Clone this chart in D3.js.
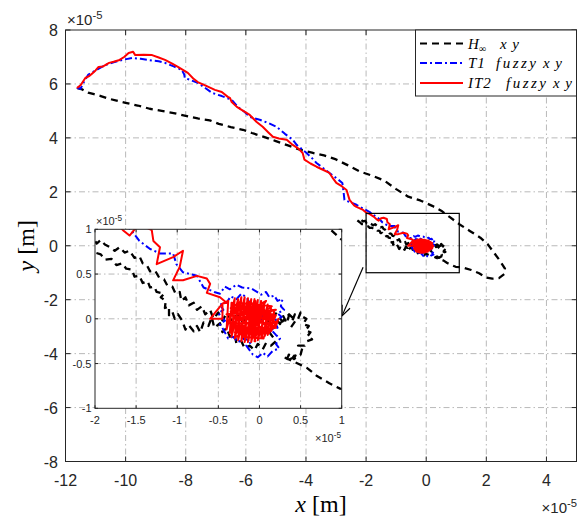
<!DOCTYPE html>
<html>
<head>
<meta charset="utf-8">
<script src="https://cdnjs.cloudflare.com/ajax/libs/d3/7.8.5/d3.min.js"></script>
<style>
body { margin: 0; background: #fff; }
svg { display: block; }
</style>
</head>
<body>
<script>
// values in units of 1e-5 m
var xTicks = [-12, -10, -8, -6, -4, -2, 0, 2, 4];
var yTicks = [-8, -6, -4, -2, 0, 2, 4, 6, 8];
var insetXTicks = [-2, -1.5, -1, -0.5, 0, 0.5, 1];
var insetYTicks = [-1, -0.5, 0, 0.5, 1];

var hinfXY = [[-11.62,5.85],[-11.45,5.8],[-11.25,5.68],[-11.05,5.62],[-10.85,5.56],[-10.55,5.45],[-10.3,5.38],[-10.0,5.3],
  [-9.6,5.2],[-9.2,5.08],[-8.8,5.0],[-8.4,4.92],[-8.0,4.82],[-7.6,4.72],[-7.2,4.65],[-6.9,4.52],[-6.5,4.4],[-6.1,4.3],
  [-5.8,4.18],[-5.4,4.04],[-5.0,3.88],[-4.6,3.72],[-4.2,3.56],[-3.8,3.45],[-3.4,3.35],[-3.0,3.2],[-2.6,2.98],[-2.2,2.75],
  [-1.8,2.6],[-1.4,2.42],[-1.0,2.1],[-0.6,1.82],[-0.2,1.68],[0.2,1.48],[0.5,1.3],[0.8,1.05],[1.1,0.8],[1.45,0.55],
  [1.8,0.3],[2.05,0.05],[2.25,-0.25],[2.45,-0.55],[2.62,-0.85],[2.6,-1.05],[2.42,-1.2],[2.2,-1.22],[2.0,-1.18],[1.76,-1.02],
  [1.5,-0.9],[1.2,-0.8],[0.98,-0.78],[0.85,-0.72],[0.7,-0.64],[0.58,-0.55],[0.42,-0.48],[0.3,-0.43],
  [0.36,-0.4],[0.32,-0.47],[0.4,-0.44],[0.45,-0.38],[0.42,-0.45],[0.5,-0.4],[0.52,-0.33],[0.47,-0.3],[0.55,-0.3],
  [0.58,-0.25],[0.64,-0.23],[0.58,-0.2],[0.62,-0.15],[0.56,-0.13],[0.6,-0.08],[0.53,-0.06],[0.57,0.0],[0.53,0.02],
  [0.5,0.07],[0.47,0.0],[0.43,0.05],[0.4,-0.02],[0.36,0.04],[0.33,-0.05],[0.29,0.03],[0.25,-0.06],[0.2,0.0],[0.15,-0.06],
  [0.12,-0.15],[0.2,-0.25],[0.14,-0.3],[0.08,-0.27],[0.04,-0.34],[-0.02,-0.28],[-0.06,-0.35],[-0.12,-0.3],[-0.18,-0.33],
  [-0.22,-0.25],[-0.28,-0.28],[-0.3,-0.18],[-0.36,-0.2],[-0.4,-0.1],[-0.45,-0.15],[-0.48,-0.05],[-0.55,-0.1],[-0.58,0.02],
  [-0.62,-0.08],[-0.68,-0.04],[-0.72,-0.15],[-0.76,-0.08],[-0.8,-0.14],[-0.86,-0.07],[-0.9,-0.12],[-0.94,-0.02],[-0.99,0.05],
  [-1.03,0.0],[-1.06,0.08],[-1.1,0.04],[-1.1,0.14],[-1.15,0.12],[-1.14,0.2],[-1.2,0.24],[-1.16,0.28],[-1.25,0.3],
  [-1.28,0.36],[-1.33,0.35],[-1.36,0.42],[-1.42,0.4],[-1.46,0.48],[-1.52,0.47],[-1.55,0.55],[-1.62,0.56],[-1.67,0.62],
  [-1.74,0.6],[-1.8,0.67],[-1.88,0.66],[-1.93,0.72],[-2.0,0.74],[-2.06,0.8],[-2.14,0.8],[-2.22,0.88],[-2.3,0.95],
  [-2.18,0.97],[-2.1,0.9],[-2.03,0.92],[-1.98,0.84],[-1.93,0.88],[-1.88,0.83],[-1.82,0.8],[-1.76,0.76],[-1.7,0.8],
  [-1.64,0.74],[-1.58,0.76],[-1.52,0.68],[-1.46,0.7],[-1.42,0.62],[-1.37,0.6],[-1.33,0.53],[-1.27,0.54],[-1.22,0.46],
  [-1.16,0.44],[-1.12,0.37],[-1.06,0.36],[-1.02,0.28],[-0.97,0.3],[-0.95,0.2],[-0.9,0.24],[-0.86,0.15],[-0.8,0.18],
  [-0.76,0.1],[-0.7,0.14],[-0.66,0.05],[-0.6,0.1],[-0.56,0.0],[-0.5,0.07],[-0.45,-0.02],[-0.4,0.06],[-0.33,-0.03],
  [-0.27,0.05],[-0.2,-0.04],[-0.12,0.04],[-0.05,-0.05],[0.05,0.04],[0.12,-0.04],[0.2,0.06],[0.28,-0.03],[0.36,0.05],
  [0.44,-0.02],[0.38,-0.1]];

var t1XY = [[-11.62,5.85],[-11.5,5.82],[-11.4,6.05],[-11.24,6.35],[-11.0,6.5],[-10.68,6.7],[-10.4,6.8],[-10.12,6.89],
  [-9.78,6.96],[-9.5,6.93],[-9.25,6.89],[-8.9,6.84],[-8.69,6.78],[-8.4,6.65],[-8.13,6.52],[-8.05,6.35],[-8.03,6.22],
  [-7.85,6.15],[-7.6,6.04],[-7.35,5.85],[-7.13,5.67],[-6.8,5.55],[-6.47,5.41],[-6.27,5.15],[-6.04,4.96],[-5.87,4.78],
  [-5.54,4.67],[-5.25,4.55],[-4.98,4.41],[-4.7,4.15],[-4.44,3.93],[-4.31,3.74],[-3.98,3.44],[-3.8,3.25],[-3.65,3.07],
  [-3.22,2.7],[-2.98,2.5],[-2.79,2.33],[-2.75,2.0],[-2.72,1.7],[-2.5,1.6],[-2.32,1.52],[-2.1,1.38],[-1.89,1.26],
  [-1.7,1.1],[-1.56,0.99],[-1.46,0.87],[-1.33,0.78],[-1.21,0.73],[-1.05,0.73],[-1.01,0.61],[-0.93,0.52],[-0.76,0.48],
  [-0.68,0.35],[-0.55,0.3],[-0.48,0.28],[-0.42,0.36],[-0.36,0.33],[-0.28,0.38],[-0.21,0.35],[-0.1,0.34],[-0.03,0.3],
  [0.02,0.27],[0.08,0.3],[0.12,0.24],[0.18,0.26],[0.22,0.2],[0.28,0.22],[0.26,0.14],[0.3,0.1],[0.22,0.06],[0.27,0.02],
  [0.18,-0.02],[0.22,-0.1],[0.14,-0.12],[0.2,-0.18],[0.25,-0.22],[0.2,-0.28],[0.24,-0.33],[0.16,-0.36],[0.1,-0.42],
  [0.04,-0.38],[-0.02,-0.43],[-0.08,-0.4],[-0.12,-0.35],[-0.16,-0.3],[-0.1,-0.26],[-0.18,-0.22],[-0.26,-0.26],
  [-0.32,-0.2],[-0.38,-0.22],[-0.44,-0.12],[-0.48,-0.06],[-0.42,-0.02],[-0.5,0.06],[-0.44,0.1],[-0.48,0.16],[-0.4,0.18],
  [-0.35,0.25],[-0.28,0.22],[-0.22,0.28],[-0.16,0.24],[-0.1,0.15],[-0.2,0.05],[-0.05,-0.05],[0.05,0.05],[-0.05,0.12],
  [0.08,0.1],[0.0,-0.05]];

var it2XY = [[-11.62,5.85],[-11.5,5.95],[-11.34,6.22],[-11.2,6.3],[-11.1,6.4],[-11.0,6.5],[-10.9,6.63],[-10.75,6.65],
  [-10.55,6.78],[-10.4,6.82],[-10.2,6.89],[-10.05,7.0],[-9.9,7.15],[-9.75,7.19],[-9.68,7.07],[-9.4,7.08],[-9.12,7.07],
  [-8.9,6.98],[-8.69,6.89],[-8.45,6.75],[-8.26,6.63],[-7.93,6.41],[-7.75,6.2],[-7.6,6.07],[-7.3,5.92],[-7.03,5.78],
  [-6.8,5.7],[-6.6,5.52],[-6.53,5.48],[-6.47,5.33],[-6.3,5.15],[-6.14,5.04],[-5.87,4.85],[-5.64,4.59],[-5.44,4.41],
  [-5.25,4.2],[-5.1,4.04],[-4.9,3.98],[-4.64,3.93],[-4.44,3.74],[-4.25,3.6],[-4.11,3.44],[-4.05,3.19],[-3.85,3.05],
  [-3.65,2.93],[-3.4,2.8],[-3.22,2.7],[-3.1,2.5],[-2.99,2.33],[-2.8,2.2],[-2.65,2.07],[-2.6,1.88],[-2.55,1.7],
  [-2.4,1.5],[-2.32,1.44],[-2.1,1.33],[-1.99,1.22],[-1.89,1.18],[-1.75,1.08],[-1.66,0.99],[-1.58,0.93],[-1.5,1.02],
  [-1.42,1.04],[-1.31,0.99],[-1.29,0.87],[-1.21,0.8],[-1.25,0.61],[-1.05,0.69],[-0.93,0.76],[-0.97,0.58],[-1.05,0.43],
  [-0.93,0.43],[-0.76,0.48],[-0.64,0.45],[-0.6,0.39],[-0.64,0.29],[-0.48,0.24],[-0.4,0.18],[-0.45,0.17],[-0.6,0.0],
  [-0.45,0.0],[-0.45,0.17],
  [-0.38,0.2],[-0.4,-0.12],[-0.3,0.23],[-0.34,-0.2],[-0.22,0.24],[-0.26,-0.24],[-0.14,0.23],[-0.18,-0.26],[-0.06,0.22],
  [-0.1,-0.26],[0.02,0.2],[-0.02,-0.24],[0.1,0.16],[0.06,-0.2],[0.18,0.08],[0.14,-0.14],[0.23,0.0],[0.2,-0.08],
  [-0.4,0.05],[0.2,0.1],[-0.38,-0.05],[0.22,-0.04],[-0.35,0.12],[0.12,-0.16],[-0.3,-0.15],[0.15,0.14],[-0.25,0.18],
  [0.05,-0.22],[-0.2,-0.2],[0.08,0.2],[-0.3,0.0],[0.18,0.02],[-0.15,0.2],[-0.05,-0.25],[-0.12,0.1],[0.1,-0.1],
  [-0.25,-0.1],[0.0,0.15],[-0.35,0.08],[0.2,-0.1],[-0.1,-0.15],[-0.05,0.2],[-0.22,0.05],[0.15,0.05],[-0.28,-0.2],
  [0.0,0.0],[-0.34,0.18],[-0.36,-0.16],[-0.26,0.22],[-0.3,-0.22],[-0.18,0.24],[-0.22,-0.25],[-0.1,0.22],[-0.14,-0.26],
  [-0.02,0.21],[-0.06,-0.25],[0.06,0.18],[0.02,-0.22],[0.14,0.12],[0.1,-0.18],[0.2,0.04],[0.0,0.0]];

var seriesNames = ["H", "T1 fuzzy xy", "IT2 fuzzy xy"];
var zoomBox = [[-2, -1], [1.1, 1.2]];
var arrowPts = [[-2.1, -0.8], [-2.8, -2.6]];

var W = 577, H = 520;
var axisColor = "#262626", gridColor = "#b9b9b9";
var serif = "'Liberation Serif', 'DejaVu Serif', serif";

var svg = d3.select("body").append("svg")
    .attr("width", W)
    .attr("height", H)
    .style("font-family", "'Liberation Sans', Arial, sans-serif");

var x = d3.scaleLinear().domain([-12, 5]).range([65.5, 576.5]);
var y = d3.scaleLinear().domain([-8, 8]).range([461.5, 30]);

var defs = svg.append("defs");
defs.append("clipPath").attr("id", "mainClip").append("rect")
    .attr("x", x(-12)).attr("y", y(8))
    .attr("width", x(5) - x(-12)).attr("height", y(-8) - y(8));

// main grid
svg.append("g").selectAll("line")
    .data(xTicks.slice(1))
    .enter().append("line")
    .attr("x1", function(d){return x(d);})
    .attr("x2", function(d){return x(d);})
    .attr("y1", y(8)).attr("y2", y(-8))
    .attr("stroke", gridColor)
    .attr("stroke-dasharray", "6,3,1.5,3");
svg.append("g").selectAll("line")
    .data(yTicks.slice(1, -1))
    .enter().append("line")
    .attr("y1", function(d){return y(d);})
    .attr("y2", function(d){return y(d);})
    .attr("x1", x(-12)).attr("x2", x(5))
    .attr("stroke", gridColor)
    .attr("stroke-dasharray", "6,3,1.5,3");

var styles = [
  {data: hinfXY, color: "#000", dash: "7,5", width: 2.3},
  {data: t1XY, color: "#0000ff", dash: "7,3,2,3", width: 2},
  {data: it2XY, color: "#ff0000", dash: null, width: 2}
];

function drawSeries(g, sx, sy) {
  var line = d3.line()
      .x(function(d){return sx(d[0]);})
      .y(function(d){return sy(d[1]);});
  g.selectAll("path.series")
      .data(styles)
      .enter().append("path")
      .attr("class", "series")
      .attr("d", function(s){return line(s.data);})
      .attr("fill", "none")
      .attr("stroke", function(s){return s.color;})
      .attr("stroke-width", function(s){return s.width;})
      .attr("stroke-linejoin", "round")
      .attr("stroke-dasharray", function(s){return s.dash;});
}

drawSeries(svg.append("g").attr("clip-path", "url(#mainClip)"), x, y);

// main box and ticks
svg.append("rect")
    .attr("x", x(-12)).attr("y", y(8))
    .attr("width", x(5) - x(-12)).attr("height", y(-8) - y(8))
    .attr("fill", "none").attr("stroke", axisColor).attr("stroke-width", 1);

var tickG = svg.append("g").attr("stroke", axisColor);
xTicks.forEach(function(d){
  tickG.append("line").attr("x1", x(d)).attr("x2", x(d)).attr("y1", y(-8)).attr("y2", y(-8) - 5);
  tickG.append("line").attr("x1", x(d)).attr("x2", x(d)).attr("y1", y(8)).attr("y2", y(8) + 5);
});
yTicks.forEach(function(d){
  tickG.append("line").attr("y1", y(d)).attr("y2", y(d)).attr("x1", x(-12)).attr("x2", x(-12) + 5);
  tickG.append("line").attr("y1", y(d)).attr("y2", y(d)).attr("x1", x(5)).attr("x2", x(5) - 5);
});

svg.append("g").selectAll("text")
    .data(xTicks)
    .enter().append("text")
    .attr("x", function(d){return x(d);})
    .attr("y", 486)
    .attr("text-anchor", "middle")
    .attr("font-size", 16)
    .attr("fill", axisColor)
    .text(function(d){return String(d);});
svg.append("g").selectAll("text")
    .data(yTicks)
    .enter().append("text")
    .attr("x", 58)
    .attr("y", function(d){return y(d) + 6;})
    .attr("text-anchor", "end")
    .attr("font-size", 16)
    .attr("fill", axisColor)
    .text(function(d){return String(d);});

function expLabel(px, py, size, anchor) {
  var t = svg.append("text")
      .attr("x", px).attr("y", py)
      .attr("font-size", size)
      .attr("fill", axisColor)
      .attr("text-anchor", anchor);
  t.append("tspan").text("\u00d710");
  t.append("tspan").attr("dy", -size * 0.4).attr("font-size", size * 0.75).text("-5");
}
expLabel(67, 25, 15, "start");
expLabel(577, 513, 15, "end");

// axis labels
var xl = svg.append("text")
    .attr("x", x(-3.5)).attr("y", 512)
    .attr("text-anchor", "middle")
    .attr("font-family", serif)
    .attr("font-size", 24).attr("fill", "#000");
xl.append("tspan").attr("font-style", "italic").text("x");
xl.append("tspan").text(" [m]");

var yl = svg.append("text")
    .attr("transform", "translate(34," + y(0) + ") rotate(-90)")
    .attr("text-anchor", "middle")
    .attr("font-family", serif)
    .attr("font-size", 24).attr("fill", "#000");
yl.append("tspan").attr("font-style", "italic").text("y");
yl.append("tspan").text(" [m]");

// legend
var leg = svg.append("g");
leg.append("rect")
    .attr("x", 415.5).attr("y", 30)
    .attr("width", 161).attr("height", 66)
    .attr("fill", "#fff").attr("stroke", axisColor);
var legY = [43.5, 63, 83];
leg.selectAll("line")
    .data(styles)
    .enter().append("line")
    .attr("x1", 420).attr("x2", 463)
    .attr("y1", function(d, i){return legY[i];})
    .attr("y2", function(d, i){return legY[i];})
    .attr("stroke", function(d){return d.color;})
    .attr("stroke-width", 2)
    .attr("stroke-dasharray", function(d){return d.dash;});

var l0 = leg.append("text").attr("y", legY[0] + 5).attr("font-family", serif)
    .attr("font-style", "italic").attr("font-size", 15);
l0.append("tspan").attr("x", 468).text(seriesNames[0]);
l0.append("tspan").attr("x", 479).attr("dy", 3).attr("font-size", 10).attr("font-style", "normal").text("\u221e");
l0.append("tspan").attr("x", 500).attr("dy", -3).attr("textLength", 19).attr("lengthAdjust", "spacing").text("xy");

var words = [null, seriesNames[1].split(" "), seriesNames[2].split(" ")];
var wordX = [null, [468, 496, 543], [468, 506, 553]];
var wordLen = [null, [null, 40, 19], [null, 40, 19]];
[1, 2].forEach(function(k){
  var t = leg.append("text").attr("y", legY[k] + 5).attr("font-family", serif)
      .attr("font-style", "italic").attr("font-size", 15);
  words[k].forEach(function(w, j){
    var ts = t.append("tspan").attr("x", wordX[k][j]).text(w);
    if (wordLen[k][j]) ts.attr("textLength", wordLen[k][j]).attr("lengthAdjust", "spacing");
    else ts.attr("letter-spacing", 1);
  });
});

// zoom box and arrow on main axes
svg.append("rect")
    .attr("x", x(zoomBox[0][0])).attr("y", y(zoomBox[1][1]))
    .attr("width", x(zoomBox[1][0]) - x(zoomBox[0][0]))
    .attr("height", y(zoomBox[0][1]) - y(zoomBox[1][1]))
    .attr("fill", "none").attr("stroke", "#000").attr("stroke-width", 1.2);

var ax0 = x(arrowPts[0][0]), ay0 = y(arrowPts[0][1]);
var ax1 = x(arrowPts[1][0]), ay1 = y(arrowPts[1][1]);
var ang = Math.atan2(ay1 - ay0, ax1 - ax0);
svg.append("line")
    .attr("x1", ax0).attr("y1", ay0).attr("x2", ax1).attr("y2", ay1)
    .attr("stroke", "#000").attr("stroke-width", 1.2);
svg.append("path")
    .attr("d", "M" + (ax1 - 11 * Math.cos(ang - 0.4)) + "," + (ay1 - 11 * Math.sin(ang - 0.4)) +
         "L" + ax1 + "," + ay1 +
         "L" + (ax1 - 11 * Math.cos(ang + 0.4)) + "," + (ay1 - 11 * Math.sin(ang + 0.4)))
    .attr("fill", "none").attr("stroke", "#000").attr("stroke-width", 1.2);

// inset
var ix = d3.scaleLinear().domain([-2, 1]).range([95, 341.7]);
var iy = d3.scaleLinear().domain([-1, 1]).range([408.3, 229.3]);

defs.append("clipPath").attr("id", "insetClip").append("rect")
    .attr("x", ix(-2)).attr("y", iy(1))
    .attr("width", ix(1) - ix(-2)).attr("height", iy(-1) - iy(1));

svg.append("rect")
    .attr("x", ix(-2)).attr("y", iy(1))
    .attr("width", ix(1) - ix(-2)).attr("height", iy(-1) - iy(1))
    .attr("fill", "#fff");

svg.append("g").selectAll("line")
    .data(insetXTicks.slice(1, -1))
    .enter().append("line")
    .attr("x1", function(d){return ix(d);})
    .attr("x2", function(d){return ix(d);})
    .attr("y1", iy(1)).attr("y2", iy(-1))
    .attr("stroke", gridColor).attr("stroke-dasharray", "6,3,1.5,3");
svg.append("g").selectAll("line")
    .data(insetYTicks.slice(1, -1))
    .enter().append("line")
    .attr("y1", function(d){return iy(d);})
    .attr("y2", function(d){return iy(d);})
    .attr("x1", ix(-2)).attr("x2", ix(1))
    .attr("stroke", gridColor).attr("stroke-dasharray", "6,3,1.5,3");

drawSeries(svg.append("g").attr("clip-path", "url(#insetClip)"), ix, iy);

svg.append("rect")
    .attr("x", ix(-2)).attr("y", iy(1))
    .attr("width", ix(1) - ix(-2)).attr("height", iy(-1) - iy(1))
    .attr("fill", "none").attr("stroke", axisColor);

var itk = svg.append("g").attr("stroke", axisColor);
insetXTicks.forEach(function(d){
  itk.append("line").attr("x1", ix(d)).attr("x2", ix(d)).attr("y1", iy(-1)).attr("y2", iy(-1) - 3);
  itk.append("line").attr("x1", ix(d)).attr("x2", ix(d)).attr("y1", iy(1)).attr("y2", iy(1) + 3);
});
insetYTicks.forEach(function(d){
  itk.append("line").attr("y1", iy(d)).attr("y2", iy(d)).attr("x1", ix(-2)).attr("x2", ix(-2) + 3);
  itk.append("line").attr("y1", iy(d)).attr("y2", iy(d)).attr("x1", ix(1)).attr("x2", ix(1) - 3);
});

svg.append("g").selectAll("text")
    .data(insetXTicks)
    .enter().append("text")
    .attr("x", function(d){return ix(d);})
    .attr("y", 424)
    .attr("text-anchor", "middle")
    .attr("font-size", 11).attr("fill", axisColor)
    .text(function(d){return String(d);});
svg.append("g").selectAll("text")
    .data(insetYTicks)
    .enter().append("text")
    .attr("x", 91.5)
    .attr("y", function(d){return iy(d) + 4;})
    .attr("text-anchor", "end")
    .attr("font-size", 11).attr("fill", axisColor)
    .text(function(d){return String(d);});

expLabel(96, 225, 11, "start");
expLabel(341, 442, 11, "end");
</script>
</body>
</html>
